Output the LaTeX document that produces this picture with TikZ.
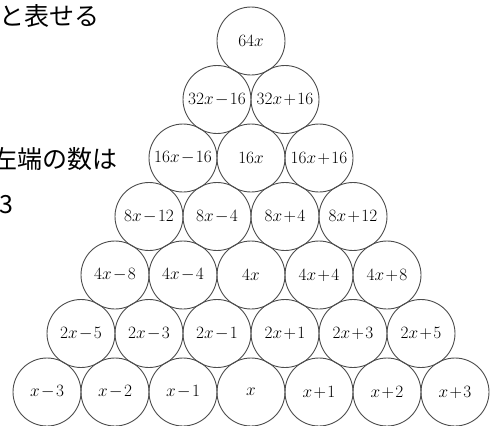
\documentclass[tikz,border=0pt]{standalone}
\usepackage{fontspec}
\newfontfamily\jpfont{Noto Sans CJK JP}
\newcommand\tightmath{\medmuskip=1.5mu\relax}
\begin{document}
\begin{tikzpicture}[x=1pt,y=-1pt,
  ball/.style={circle,draw=black!70,line width=0.9pt,minimum size=68pt,inner sep=0pt,font=\fontsize{16.5}{19}\selectfont\tightmath},
  jtext/.style={inner sep=0pt,font=\jpfont\fontsize{25}{30}\selectfont}]
\useasboundingbox (0,0) rectangle (491,426);
% Japanese text fragments
\node[jtext,anchor=west] (t1) at (-1,16) {と表せる};
\node[jtext,anchor=east] (t2) at (118,159) {左端の数は};
\node[jtext,anchor=west] (t3) at (-1,205) {3};
% row 0
\node[ball] (a0) at (251,41) {$64x$};
% row 1
\node[ball] (b0) at (217,99.5) {$32x-16$};
\node[ball] (b1) at (285,99.5) {$32x+16$};
% row 2
\node[ball] (c0) at (183,158) {$16x-16$};
\node[ball] (c1) at (251,158) {$16x$};
\node[ball] (c2) at (319,158) {$16x+16$};
% row 3
\node[ball] (d0) at (149,216.5) {$8x-12$};
\node[ball] (d1) at (217,216.5) {$8x-4$};
\node[ball] (d2) at (285,216.5) {$8x+4$};
\node[ball] (d3) at (353,216.5) {$8x+12$};
% row 4
\node[ball] (e0) at (115,275) {$4x-8$};
\node[ball] (e1) at (183,275) {$4x-4$};
\node[ball] (e2) at (251,275) {$4x$};
\node[ball] (e3) at (319,275) {$4x+4$};
\node[ball] (e4) at (387,275) {$4x+8$};
% row 5
\node[ball] (f0) at (81,333.5) {$2x-5$};
\node[ball] (f1) at (149,333.5) {$2x-3$};
\node[ball] (f2) at (217,333.5) {$2x-1$};
\node[ball] (f3) at (285,333.5) {$2x+1$};
\node[ball] (f4) at (353,333.5) {$2x+3$};
\node[ball] (f5) at (421,333.5) {$2x+5$};
% row 6
\node[ball] (g0) at (47,392) {$x-3$};
\node[ball] (g1) at (115,392) {$x-2$};
\node[ball] (g2) at (183,392) {$x-1$};
\node[ball] (g3) at (251,392) {$x$};
\node[ball] (g4) at (319,392) {$x+1$};
\node[ball] (g5) at (387,392) {$x+2$};
\node[ball] (g6) at (455,392) {$x+3$};
\end{tikzpicture}
\end{document}
